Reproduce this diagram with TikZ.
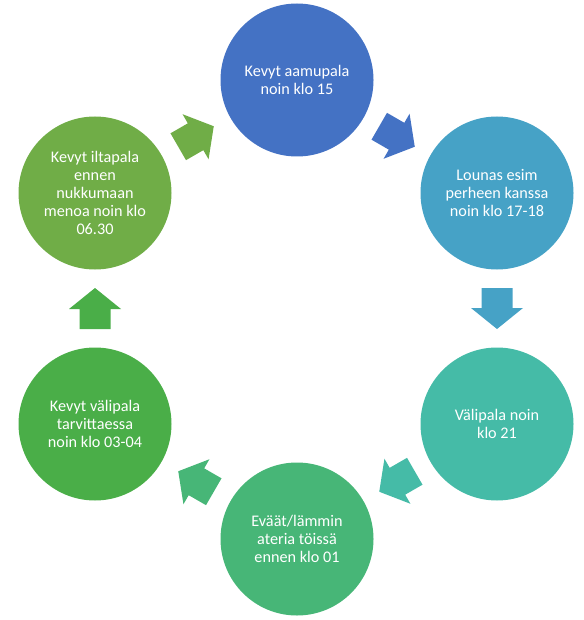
\documentclass[tikz,border=0pt]{standalone}
\usepackage{fontspec}
\setmainfont{Carlito}
\usepackage{tikz}
\usetikzlibrary{calc}
\definecolor{mealone}{HTML}{4472C4}
\definecolor{mealtwo}{HTML}{46A2C6}
\definecolor{mealthree}{HTML}{45BBA7}
\definecolor{mealfour}{HTML}{47B677}
\definecolor{mealfive}{HTML}{4AAE48}
\definecolor{mealsix}{HTML}{70AD47}

\begin{document}
\begin{tikzpicture}[x=1pt, y=-1pt,
  meal/.style={circle, minimum size=153pt, inner sep=0pt, align=center,
               text=white, font=\fontsize{16.2}{18}\selectfont},
  flow/.pic={\fill (-20.5,-15.5) -- (-0.5,-15.5) -- (-0.5,-26) -- (20.5,0)
             -- (-0.5,26) -- (-0.5,15.5) -- (-20.5,15.5) -- cycle;}
]
  \useasboundingbox (0,0) rectangle (583,620);
  \node[meal, fill=mealone] (aamu) at (297,80) {Kevyt aamupala\\noin klo 15};
  \node[meal, fill=mealtwo] (lounas) at (497,193) {Lounas esim\\perheen kanssa\\noin klo 17-18};
  \node[meal, fill=mealthree] (vali) at (497,424) {Välipala noin\\klo 21};
  \node[meal, fill=mealfour] (evaat) at (297,539) {Eväät/lämmin\\ateria töissä\\ennen klo 01};
  \node[meal, fill=mealfive] (yo) at (95,424) {Kevyt välipala\\tarvittaessa\\noin klo 03-04};
  \node[meal, fill=mealsix] (ilta) at (95,193) {Kevyt iltapala\\ennen\\nukkumaan\\menoa noin klo\\06.30};
  \pic[fill=mealone, rotate=-30] at ($(aamu)!0.5!(lounas)$) {flow};
  \pic[fill=mealtwo, rotate=-90] at ($(lounas)!0.5!(vali)$) {flow};
  \pic[fill=mealthree, rotate=-150] at ($(vali)!0.5!(evaat)$) {flow};
  \pic[fill=mealfour, rotate=150] at ($(evaat)!0.5!(yo)$) {flow};
  \pic[fill=mealfive, rotate=90] at ($(yo)!0.5!(ilta)$) {flow};
  \pic[fill=mealsix, rotate=30] at ($(ilta)!0.5!(aamu)$) {flow};
\end{tikzpicture}
\end{document}
